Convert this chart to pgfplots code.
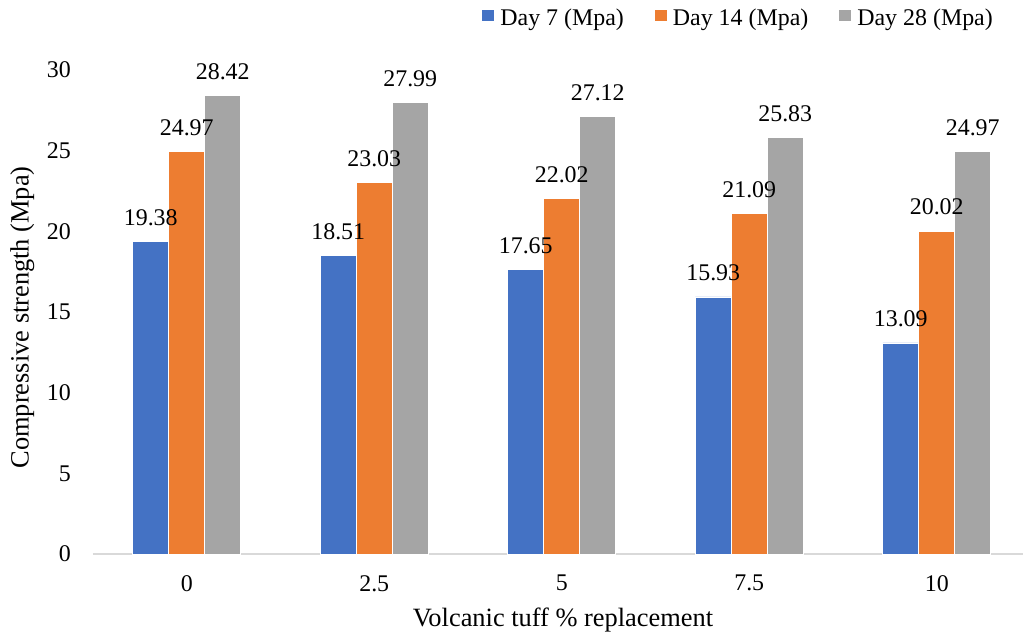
\documentclass[border=0pt]{standalone}
\usepackage{pgfplots}
\pgfplotsset{compat=1.18}
\usepackage{fontspec}
\setmainfont{Liberation Serif}
\definecolor{cblue}{HTML}{4472C4}
\definecolor{corange}{HTML}{ED7D31}
\definecolor{cgray}{HTML}{A5A5A5}
\definecolor{caxis}{HTML}{D9D9D9}
\newcommand{\fs}{\fontsize{24}{28}\selectfont}
\begin{document}
\begin{tikzpicture}
\useasboundingbox (-93bp,-85bp) rectangle (930bp,554bp);
\begin{axis}[
  at={(0,0)}, anchor=south west,
  scale only axis, width=937.5bp, height=484bp,
  xmin=-0.5, xmax=4.5, ymin=0, ymax=30,
  enlargelimits=false, clip=false,
  axis lines*=left,
  axis line style={-},
  y axis line style={draw=none},
  x axis line style={draw=caxis, line width=1.5bp},
  xtick={0,1,2,3,4}, xticklabels={0,2.5,5,7.5,10},
  ytick={0,5,10,15,20,25,30},
  major tick length=0pt,
  tick style={draw=none},
  /pgf/number format/assume math mode=true,
  ticklabel style={font=\fs, inner sep=0pt},
  yticklabel style={xshift=-22bp},
  xticklabel style={yshift=-21bp},
  xlabel={Volcanic tuff \% replacement},
  ylabel={Compressive strength (Mpa)},
  label style={font=\fontsize{26.5}{30}\selectfont, inner sep=0pt},
  xlabel style={at={(axis description cs:0.5013,-0.1116)}, anchor=north},
  ylabel style={at={(axis description cs:-0.0885,0.489)}, anchor=north},
  ybar=0pt, bar width=36bp,
  point meta=explicit symbolic,
  nodes near coords,
  nodes near coords style={font=\fs, inner sep=0pt, yshift=15.5bp, text=black},
  legend columns=3,
  legend style={at={(axis description cs:0.96,1.1085)}, anchor=east,
    draw=none, fill=none, inner sep=0pt, font=\fs, nodes={inner sep=0pt},
    /tikz/every odd column/.append style={column sep=6bp},
    /tikz/every even column/.append style={column sep=31bp}},
  legend image code/.code={\path[#1, draw=none] (0bp,-4bp) rectangle (12bp,7bp);},
]
\addplot[fill=cblue, draw=white, line width=0.6bp] coordinates {
  (0,19.38) [19.38] (1,18.51) [18.51] (2,17.65) [17.65] (3,15.93) [15.93] (4,13.09) [13.09]};
\addplot[fill=corange, draw=white, line width=0.6bp] coordinates {
  (0,24.97) [24.97] (1,23.03) [23.03] (2,22.02) [22.02] (3,21.09) [21.09] (4,20.02) [20.02]};
\addplot[fill=cgray, draw=white, line width=0.6bp] coordinates {
  (0,28.42) [28.42] (1,27.99) [27.99] (2,27.12) [27.12] (3,25.83) [25.83] (4,24.97) [24.97]};
\legend{Day 7 (Mpa), Day 14 (Mpa), Day 28 (Mpa)}
\end{axis}
\end{tikzpicture}
\end{document}
